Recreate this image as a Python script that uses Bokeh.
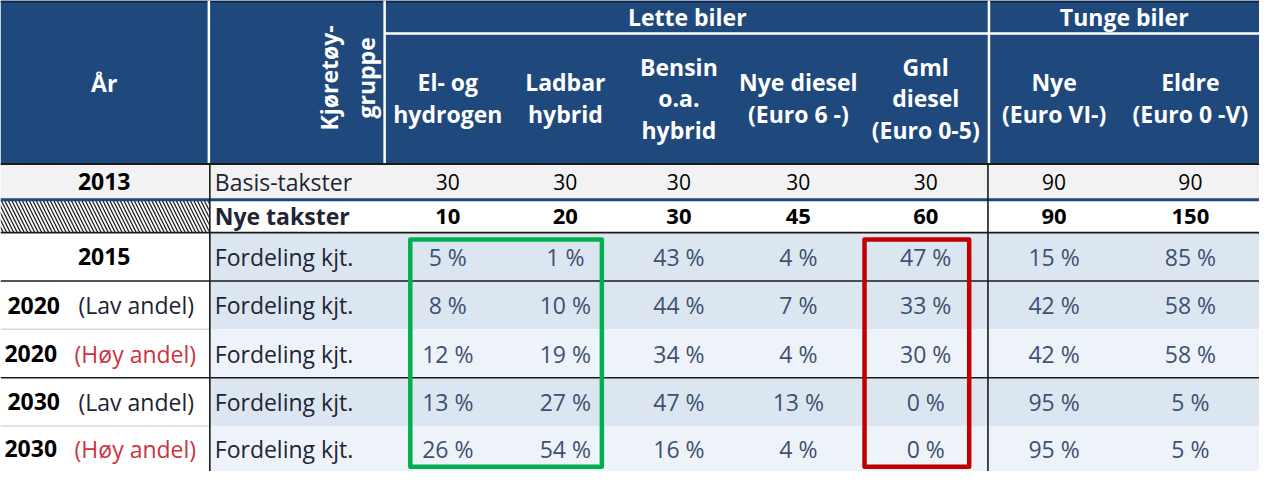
import numpy as np
from bokeh.plotting import figure
from bokeh.models import Range1d, ColumnDataSource
from bokeh.core.properties import value
from bokeh.embed import file_html
from bokeh.resources import INLINE

# ---------------- data ----------------
group_labels = ["Lette biler", "Tunge biler"]
categories = ["El- og\nhydrogen", "Ladbar\nhybrid", "Bensin\no.a.\nhybrid",
              "Nye diesel\n(Euro 6 -)", "Gml\ndiesel\n(Euro 0-5)",
              "Nye\n(Euro VI-)", "Eldre\n(Euro 0 -V)"]
header_year = "År"
header_group = ["Kjøretøy-", "gruppe"]

row_years = ["2013", "", "2015", "2020", "2020", "2030", "2030"]
row_variants = ["", "", "", "(Lav andel)", "(Høy andel)", "(Lav andel)", "(Høy andel)"]
row_kinds = ["Basis-takster", "Nye takster", "Fordeling kjt.", "Fordeling kjt.",
             "Fordeling kjt.", "Fordeling kjt.", "Fordeling kjt."]

basis_takster = [30, 30, 30, 30, 30, 90, 90]
nye_takster = [10, 20, 30, 45, 60, 90, 150]
andel_2015 = [5, 1, 43, 4, 47, 15, 85]
andel_2020_lav = [8, 10, 44, 7, 33, 42, 58]
andel_2020_hoy = [12, 19, 34, 4, 30, 42, 58]
andel_2030_lav = [13, 27, 47, 13, 0, 95, 5]
andel_2030_hoy = [26, 54, 16, 4, 0, 95, 5]

# ---------------- layout ----------------
W, H = 1275, 487
FONT = value("Open Sans")
HEAD = "#1F497D"
LIGHT = "#DCE6F1"
LIGHTER = "#EEF3F9"
GREY = "#F2F2F2"
PCT = "#3F5070"
DARK = "#1E2433"
RED_TXT = "#CC3340"

x_year_right = 212
x_kind_right = 390
x_group_split = 1001
cat_x = [453, 572, 687, 808, 937, 1067, 1205]
row_edges = [169, 206, 240, 290, 340, 390, 440, 487]
row_mid = [(row_edges[i] + row_edges[i + 1]) / 2 for i in range(7)]

p = figure(width=1259, height=471, x_range=Range1d(0, W), y_range=Range1d(H, 0),
           output_backend="svg", toolbar_location=None, min_border=0)
p.axis.visible = False
p.grid.visible = False
p.outline_line_color = None
p.background_fill_color = "white"

# header background
p.quad(left=[0], right=[W], top=[0], bottom=[row_edges[0]], fill_color=HEAD, line_color=None)
p.segment(x0=[0], y0=[1], x1=[W], y1=[1], line_color="#0E2644", line_width=2)
# header white separators
p.segment(x0=[x_year_right - 1, x_kind_right - 1, x_group_split],
          y0=[0, 0, 0], x1=[x_year_right - 1, x_kind_right - 1, x_group_split],
          y1=[row_edges[0]] * 3, line_color="white", line_width=2.5)
p.segment(x0=[x_kind_right - 1], y0=[34], x1=[W], y1=[34], line_color="white", line_width=2.5)

# row backgrounds
row_fill = [GREY, "white", LIGHT, LIGHT, LIGHTER, LIGHT, LIGHTER]
first_fill = [GREY, "white", "white", "white", "white", "white", "white"]
p.quad(left=[x_year_right] * 7, right=[W] * 7, top=row_edges[:-1], bottom=row_edges[1:],
       fill_color=row_fill, line_color=None)
p.quad(left=[0] * 7, right=[x_year_right] * 7, top=row_edges[:-1], bottom=row_edges[1:],
       fill_color=first_fill, line_color=None)
# hatched cell
p.quad(left=[0], right=[x_year_right - 1], top=[row_edges[1]], bottom=[row_edges[2]],
       fill_color="white", hatch_pattern="\\", hatch_color="#222222",
       hatch_scale=7, hatch_weight=1.3, line_color=None)

# horizontal rules
p.segment(x0=[0], y0=[row_edges[0]], x1=[W], y1=[row_edges[0]], line_color="#1a1a1a", line_width=2)
p.segment(x0=[0], y0=[row_edges[1]], x1=[W], y1=[row_edges[1]], line_color=HEAD, line_width=3)
for k in (2, 3, 5):
    p.segment(x0=[0], y0=[row_edges[k]], x1=[W], y1=[row_edges[k]], line_color="#1a1a1a", line_width=1.6)
for k in (4, 6):
    p.segment(x0=[0], y0=[row_edges[k]], x1=[x_year_right], y1=[row_edges[k]],
              line_color="#D9D9D9", line_width=1.5)
# vertical rules in body
p.segment(x0=[x_year_right, x_group_split - 1], y0=[row_edges[0]] * 2,
          x1=[x_year_right, x_group_split - 1], y1=[H] * 2, line_color="#1a1a1a", line_width=1.6)

# ---- header texts ----
p.text(x=[105], y=[85], text=[header_year], text_font=FONT, text_font_style="bold",
       text_font_size="23px", text_color="white", text_align="center", text_baseline="middle")
p.text(x=[333, 370], y=[80, 80], text=header_group, angle=np.pi / 2, text_font=FONT,
       text_font_style="bold", text_font_size="23px", text_color="white",
       text_align="center", text_baseline="middle")
p.text(x=[(x_kind_right + x_group_split) / 2, (x_group_split + W) / 2], y=[17, 17],
       text=group_labels, text_font=FONT, text_font_style="bold", text_font_size="23px",
       text_color="white", text_align="center", text_baseline="middle")
hx, hy, ht = [], [], []
for cx, lab in zip(cat_x, categories):
    lines = lab.split("\n")
    n = len(lines)
    for i, ln in enumerate(lines):
        hx.append(cx)
        hy.append(101 + (i - (n - 1) / 2) * 32.5)
        ht.append(ln)
p.text(x=hx, y=hy, text=ht, text_font=FONT, text_font_style="bold", text_font_size="23px",
       text_color="white", text_align="center", text_baseline="middle")

# ---- first column ----
p.text(x=[105, 105], y=[row_mid[0], row_mid[2]], text=[row_years[0], row_years[2]],
       text_font=FONT, text_font_style="bold", text_font_size="23px", text_color="black",
       text_align="center", text_baseline="middle")
yx = [7 if "Lav" in v else 4 for v in row_variants[3:]]
vx = [79 if "Lav" in v else 75 for v in row_variants[3:]]
p.text(x=yx, y=row_mid[3:], text=row_years[3:], text_font=FONT, text_font_style="bold",
       text_font_size="23px", text_color="black", text_align="left", text_baseline="middle")
p.text(x=vx, y=row_mid[3:], text=row_variants[3:], text_font=FONT, text_font_size="23px",
       text_color=[DARK if "Lav" in v else RED_TXT for v in row_variants[3:]],
       text_align="left", text_baseline="middle")

# ---- second column ----
p.text(x=[217] * 7, y=row_mid, text=row_kinds, text_font=FONT,
       text_font_style=["normal", "bold", "normal", "normal", "normal", "normal", "normal"],
       text_font_size="23px", text_color=DARK, text_align="left", text_baseline="middle")

# ---- values ----
p.text(x=cat_x, y=[row_mid[0]] * 7, text=[str(v) for v in basis_takster], text_font=FONT,
       text_font_size="21px", text_color="black", text_align="center", text_baseline="middle")
p.text(x=cat_x, y=[row_mid[1]] * 7, text=[str(v) for v in nye_takster], text_font=FONT,
       text_font_style="bold", text_font_size="22px", text_color="black",
       text_align="center", text_baseline="middle")
shares = [andel_2015, andel_2020_lav, andel_2020_hoy, andel_2030_lav, andel_2030_hoy]
sx, sy, st = [], [], []
for r, vals in enumerate(shares):
    for cx, v in zip(cat_x, vals):
        sx.append(cx)
        sy.append(row_mid[r + 2])
        st.append(f"{v} %")
p.text(x=sx, y=sy, text=st, text_font=FONT, text_font_size="23px", text_color=PCT,
       text_align="center", text_baseline="middle")

# ---- highlight boxes ----
p.quad(left=[cat_x[0] - 38], right=[cat_x[1] + 37], top=[row_edges[2] + 7], bottom=[H - 5],
       fill_alpha=0, line_color="#00B050", line_width=4.5, line_join="round")
p.quad(left=[cat_x[4] - 62], right=[cat_x[4] + 44], top=[row_edges[2] + 7], bottom=[H - 5],
       fill_alpha=0, line_color="#C00000", line_width=4.5, line_join="round")

open("out.html", "w").write(file_html(p, INLINE))
